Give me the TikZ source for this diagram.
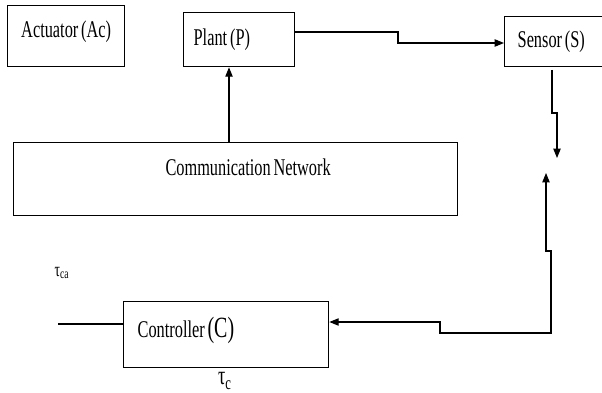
\documentclass[tikz,border=0pt]{standalone}
\usepackage{fontspec}
\setmainfont[FakeStretch=0.68,WordSpace=0.7]{Liberation Serif}
\usetikzlibrary{arrows.meta}
\begin{document}
\begin{tikzpicture}[x=0.75pt,y=-0.75pt]
  \tikzstyle{every node}+=[inner sep=0pt,font=\fontsize{18}{20}\selectfont]
  \tikzstyle{block}=[draw=black,line width=1pt,anchor=north west,inner ysep=0pt]
  \tikzstyle{wire}=[black,line width=0.8pt]
  \tikzstyle{arr}=[wire,-{Triangle[length=7pt,width=5.5pt]}]
  \useasboundingbox (0,0) rectangle (602,392);
  \node [block,minimum width=87.75pt,text height=24pt,text depth=21.75pt] (act) at (7,5) {Actuator (Ac)};
  \node [block,inner xsep=7.5pt,text width=68.25pt,align=flush left,text height=24.75pt,text depth=15.75pt] (plant) at (183,12) {Plant (P)};
  \node [block,inner xsep=9.75pt,text width=57pt,align=flush left,text height=23.25pt,text depth=14.25pt] (sensor) at (504,16) {Sensor (S)};
  \node [block,inner xsep=95.25pt,text width=142.5pt,align=flush right,text height=24.75pt,text depth=30pt] (net) at (13,142) {Communication Network};
  \node [block,inner xsep=10.5pt,text width=132.75pt,align=flush left,text height=27pt,text depth=22.5pt] (ctrl) at (123,301) {Controller {\fontsize{22}{22}\selectfont(C)}};
  \node [font=\fontsize{15}{15}\selectfont] (tca) at (62,273) {τ\textsubscript{ca}};
  \node [font=\fontsize{20}{20}\selectfont] (tc) at (225,381) {τ\textsubscript{c}};
  \coordinate (np) at (229,142);
  \draw [arr] (np) -- (np |- plant.south);
  \coordinate (ps1) at (398,32);
  \coordinate (ps2) at (398,43);
  \draw [arr] (ps1 -| plant.east) -- (ps1) -- (ps2) -- (ps2 -| sensor.west);
  \coordinate (sd1) at (552,113);
  \coordinate (sd2) at (557,113);
  \coordinate (sd3) at (557,158);
  \draw [arr] ([yshift=-2pt]sd1 |- sensor.south) -- (sd1) -- (sd2) -- (sd3);
  \coordinate (up) at (546,173);
  \coordinate (fb1) at (546,251);
  \coordinate (fb2) at (551,251);
  \coordinate (fb3) at (551,333);
  \coordinate (fb4) at (440,333);
  \coordinate (fb5) at (440,322);
  \draw [arr,{Triangle[length=7pt,width=5.5pt]}-{Triangle[length=7pt,width=5.5pt]}] (up) -- (fb1) -- (fb2) -- (fb3) -- (fb4) -- (fb5) -- (fb5 -| ctrl.east);
  \coordinate (cin) at (58,324);
  \draw [wire] (cin) -- (cin -| ctrl.west);
\end{tikzpicture}
\end{document}
